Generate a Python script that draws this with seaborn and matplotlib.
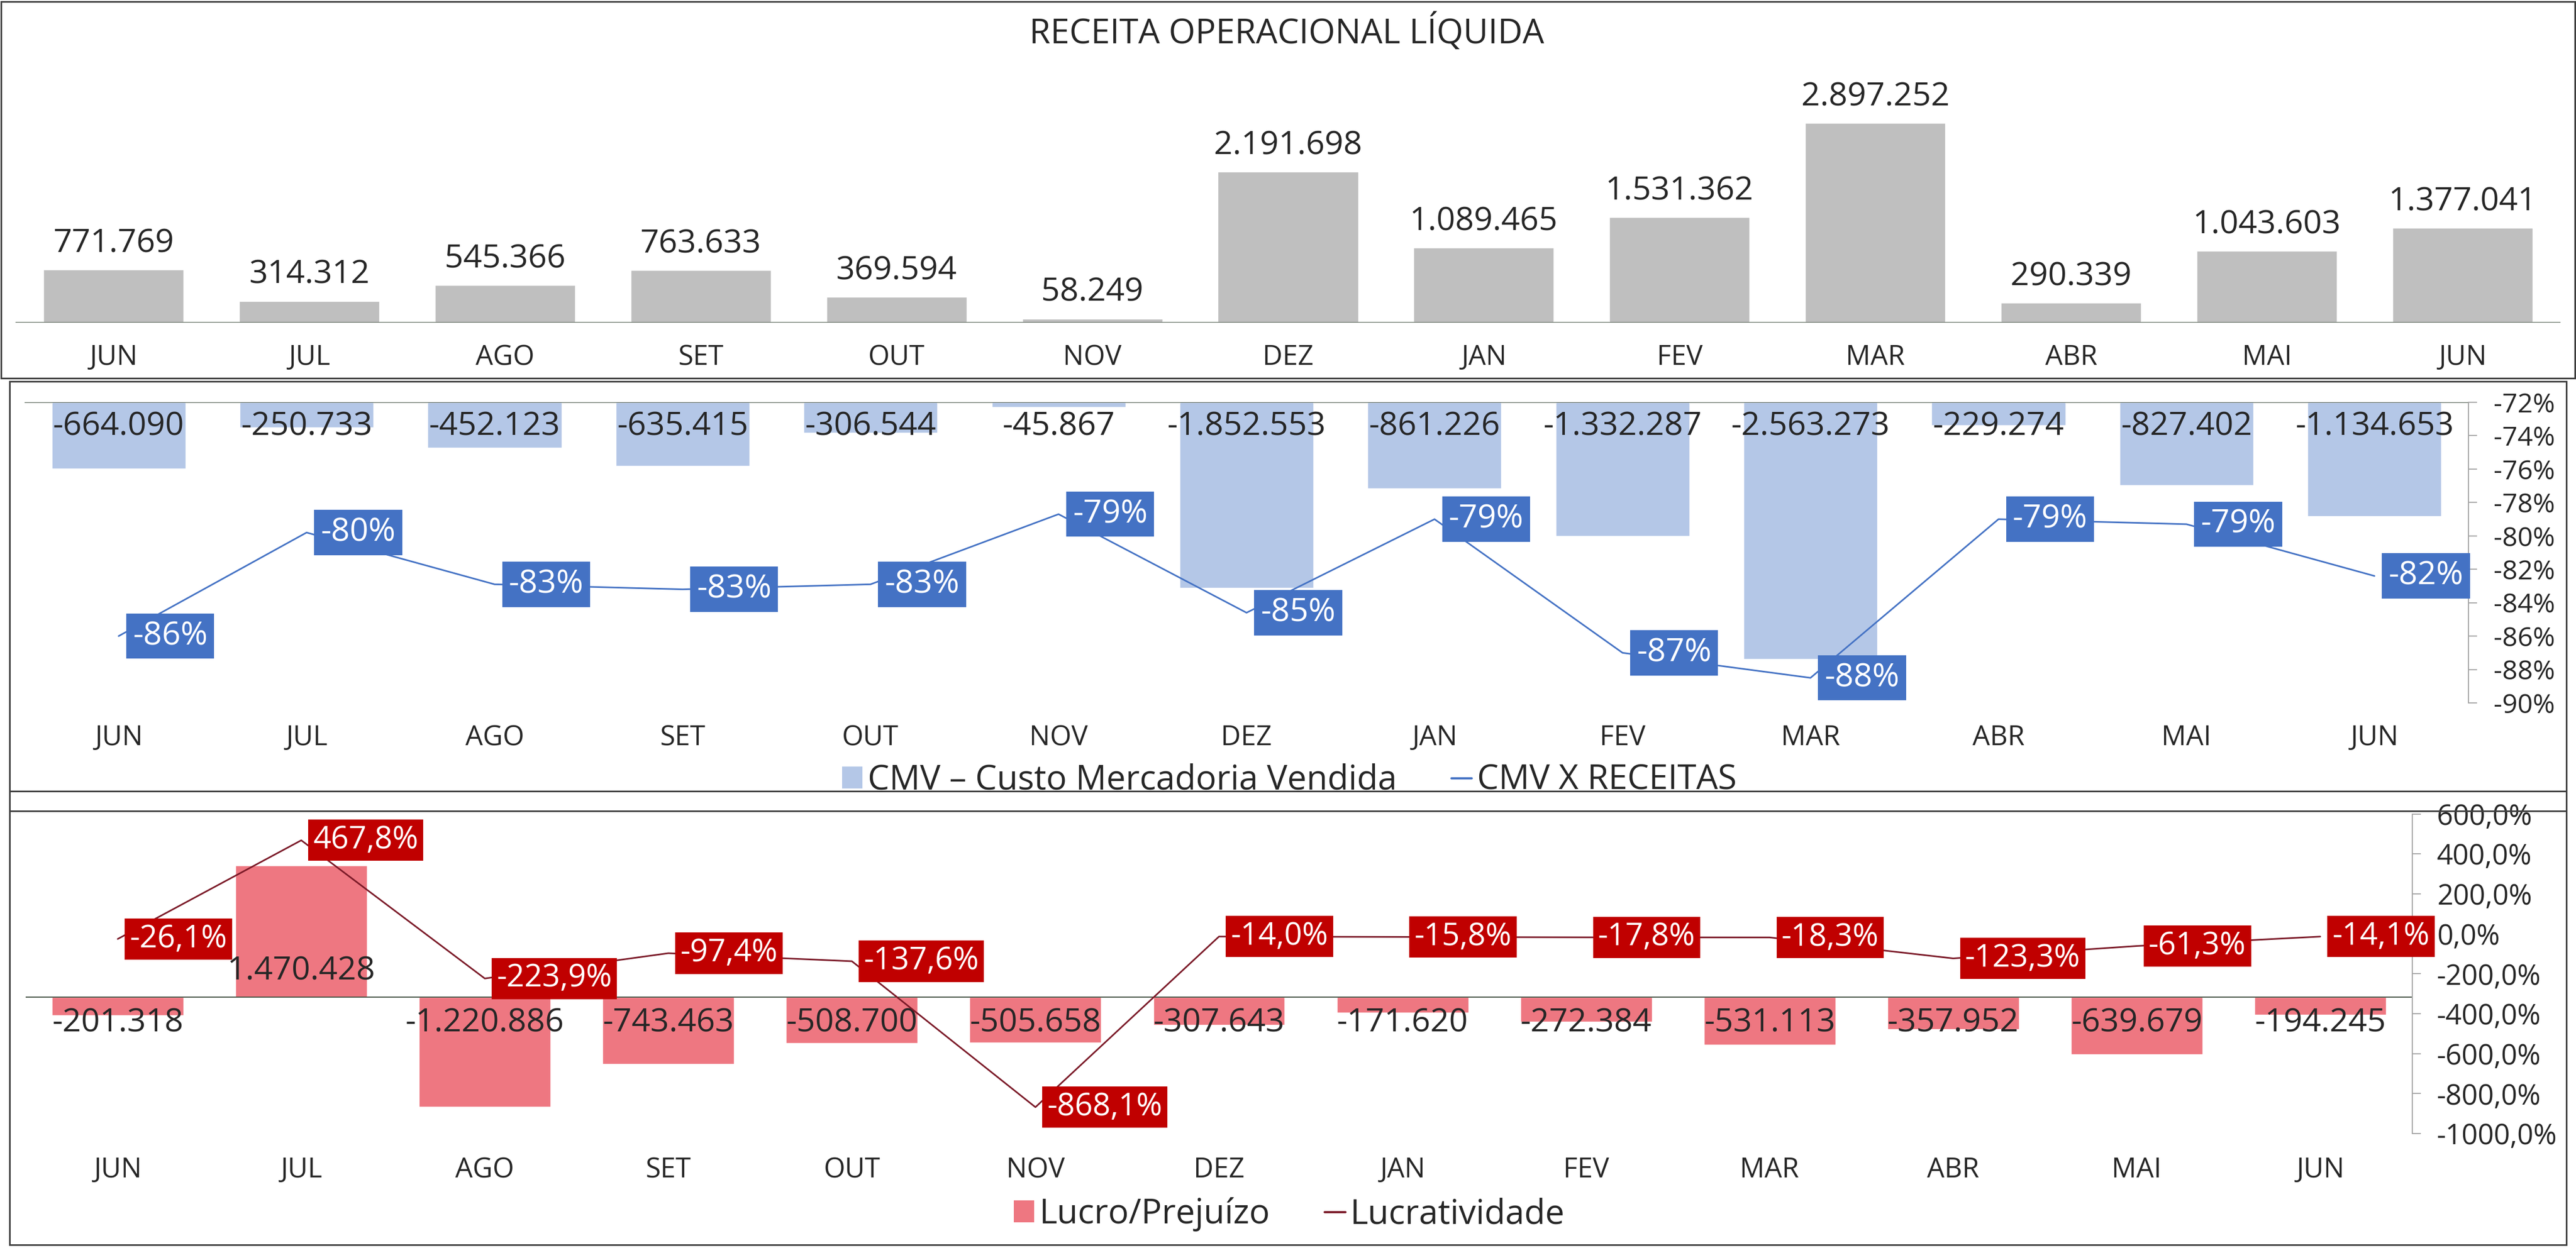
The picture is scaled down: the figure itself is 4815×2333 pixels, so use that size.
import numpy as np
import pandas as pd
import matplotlib
matplotlib.use("Agg")
import matplotlib.pyplot as plt
from matplotlib.patches import Rectangle, Patch
from matplotlib.lines import Line2D
import seaborn as sns

# dados
meses = ["JUN", "JUL", "AGO", "SET", "OUT", "NOV", "DEZ", "JAN", "FEV", "MAR", "ABR", "MAI", "JUN"]
receita = [771769, 314312, 545366, 763633, 369594, 58249, 2191698, 1089465, 1531362, 2897252, 290339, 1043603, 1377041]
cmv = [-664090, -250733, -452123, -635415, -306544, -45867, -1852553, -861226, -1332287, -2563273, -229274, -827402, -1134653]
cmv_pct = [-86.0, -79.8, -82.9, -83.2, -82.9, -78.7, -84.6, -79.0, -87.0, -88.5, -79.0, -79.3, -82.4]
lucro = [-201318, 1470428, -1220886, -743463, -508700, -505658, -307643, -171620, -272384, -531113, -357952, -639679, -194245]
lucr_pct = [-26.1, 467.8, -223.9, -97.4, -137.6, -868.1, -14.0, -15.8, -17.8, -18.3, -123.3, -61.3, -14.1]

idx = list(range(len(meses)))

sns.set_style("white")
plt.rcParams["font.family"] = ["Open Sans", "DejaVu Sans"]

W, H = 4815, 2333
DPI = 100
PT = 72 / DPI  # px -> pt


def rect(x0, y0, x1, y1):
    return [x0 / W, 1 - y1 / H, (x1 - x0) / W, (y1 - y0) / H]


def milhar(v):
    return f"{v:,}".replace(",", ".")


def frame(x0, y0, x1, y1):
    fig.add_artist(Rectangle((x0 / W, 1 - y1 / H), (x1 - x0) / W, (y1 - y0) / H,
                             transform=fig.transFigure, fill=False,
                             ec="#404040", lw=3 * PT, zorder=10))


def clean(ax):
    for s in ax.spines.values():
        s.set_visible(False)
    ax.set_ylabel("")
    ax.set_xlabel("")


fig = plt.figure(figsize=(W / DPI, H / DPI), dpi=DPI)
fig.patch.set_facecolor("white")

ZERO = "#435243"
LBL = 44
MES = 37
PCT = 44
LEG = 46

# ---------- painel 1: receita ----------
df1 = pd.DataFrame({"i": idx, "v": receita})
ax1 = fig.add_axes(rect(29, 110, 4786, 603))
sns.barplot(data=df1, x="i", y="v", color="#BFBFBF", saturation=1, width=0.716, ax=ax1)
clean(ax1)
ax1.set_xlim(-0.5, 12.5)
ax1.set_ylim(0, 3.83e6)
ax1.axhline(0, color=ZERO, lw=2 * PT)
ax1.set_yticks([])
ax1.set_xticks(idx, meses)
ax1.tick_params(axis="x", length=0, pad=29, labelsize=MES)
for i, v in enumerate(receita):
    ax1.annotate(milhar(v), (i, v), xytext=(0, 35), textcoords="offset points",
                 ha="center", va="center", fontsize=LBL)
fig.text(2405 / W, 1 - 60 / H, "RECEITA OPERACIONAL LÍQUIDA", ha="center", va="center", fontsize=46)

# ---------- painel 2: CMV ----------
df2 = pd.DataFrame({"i": idx, "v": cmv, "p": cmv_pct})
ax2 = fig.add_axes(rect(46, 752, 4614, 1314))
sns.barplot(data=df2, x="i", y="v", color="#B4C7E7", saturation=1, width=0.712, ax=ax2)
clean(ax2)
ax2.set_xlim(-0.5, 12.5)
ax2.set_ylim(-3.0e6, 0)
ax2.axhline(0, color=ZERO, lw=2 * PT)
ax2.set_yticks([])
ax2.set_xticks(idx, meses)
ax2.tick_params(axis="x", length=0, pad=29, labelsize=MES)
for i, v in enumerate(cmv):
    ax2.annotate(milhar(v), (i, 0), xytext=(0, -33), textcoords="offset points",
                 ha="center", va="center", fontsize=LBL)

ax2t = ax2.twinx()
sns.lineplot(data=df2, x="i", y="p", color="#4472C4", lw=3 * PT, ax=ax2t)
clean(ax2t)
ax2t.set_xlim(-0.5, 12.5)
ax2t.set_ylim(-90, -72)
ax2t.spines["right"].set_visible(True)
ax2t.spines["right"].set_color("#A6A6A6")
ax2t.spines["right"].set_linewidth(2 * PT)
yt = list(range(-90, -71, 2))
ax2t.set_yticks(yt, [f"{t}%" for t in yt])
ax2t.tick_params(axis="y", direction="out", length=16 * PT, width=2 * PT,
                 color="#A6A6A6", labelsize=36, pad=22)
for i, p in enumerate(cmv_pct):
    ax2t.annotate(f"{p:.0f}%", (i, p), xytext=(19, 0), textcoords="offset points",
                  ha="left", va="center", color="white", fontsize=PCT, zorder=5,
                  bbox=dict(boxstyle="square,pad=0.2", fc="#4472C4", ec="none"))

ax2t.legend(handles=[Patch(fc="#B4C7E7", ec="none", label="CMV – Custo Mercadoria Vendida"),
                     Line2D([], [], color="#4472C4", lw=4 * PT, label="CMV X RECEITAS")],
            loc="center", bbox_to_anchor=(2410 / W, 1 - 1459 / H), bbox_transform=fig.transFigure,
            ncol=2, frameon=False, fontsize=LEG, handlelength=0.6, handleheight=0.6,
            handletextpad=0.15, columnspacing=1.6, borderpad=0)

# ---------- painel 3: lucro ----------
df3 = pd.DataFrame({"i": idx, "v": lucro, "p": lucr_pct})
ax3 = fig.add_axes(rect(48.5, 1521.5, 4508.5, 2119))
sns.barplot(data=df3, x="i", y="v", color="#EE7781", saturation=1, width=0.717, ax=ax3)
clean(ax3)
ax3.set_xlim(-0.5, 12.5)
ax3.set_ylim(-1.52e6, 2.045e6)
ax3.axhline(0, color=ZERO, lw=2 * PT)
ax3.set_yticks([])
ax3.set_xticks(idx, meses)
ax3.tick_params(axis="x", length=0, pad=31, labelsize=MES)
for i, v in enumerate(lucro):
    off = 35 if v > 0 else -35
    ax3.annotate(milhar(v), (i, 0), xytext=(0, off), textcoords="offset points",
                 ha="center", va="center", fontsize=LBL)

ax3t = ax3.twinx()
sns.lineplot(data=df3, x="i", y="p", color="#7B1A28", lw=3 * PT, ax=ax3t)
clean(ax3t)
ax3t.set_xlim(-0.5, 12.5)
ax3t.set_ylim(-1000, 600)
ax3t.spines["right"].set_visible(True)
ax3t.spines["right"].set_color("#A6A6A6")
ax3t.spines["right"].set_linewidth(2 * PT)
yt3 = list(range(-1000, 601, 200))
ax3t.set_yticks(yt3, [f"{t:.1f}%".replace(".", ",") for t in yt3])
ax3t.tick_params(axis="y", direction="out", length=16 * PT, width=2 * PT,
                 color="#A6A6A6", labelsize=38, pad=22)
for i, p in enumerate(lucr_pct):
    ax3t.annotate(f"{p:.1f}%".replace(".", ","), (i, p), xytext=(16, 0), textcoords="offset points",
                  ha="left", va="center", color="white", fontsize=42, zorder=5,
                  bbox=dict(boxstyle="square,pad=0.16", fc="#C00000", ec="none"))

ax3t.legend(handles=[Patch(fc="#EE7781", ec="none", label="Lucro/Prejuízo"),
                     Line2D([], [], color="#7B1A28", lw=4 * PT, label="Lucratividade")],
            loc="center", bbox_to_anchor=(2410 / W, 1 - 2270 / H), bbox_transform=fig.transFigure,
            ncol=2, frameon=False, fontsize=LEG, handlelength=0.6, handleheight=0.6,
            handletextpad=0.15, columnspacing=1.6, borderpad=0)

# molduras
frame(2, 3, 4813, 707)
frame(18, 713, 4797, 1479)
frame(18, 1479, 4797, 1516)
frame(18, 1516, 4797, 2327)

fig.savefig("out.png", dpi=DPI, facecolor="white")
